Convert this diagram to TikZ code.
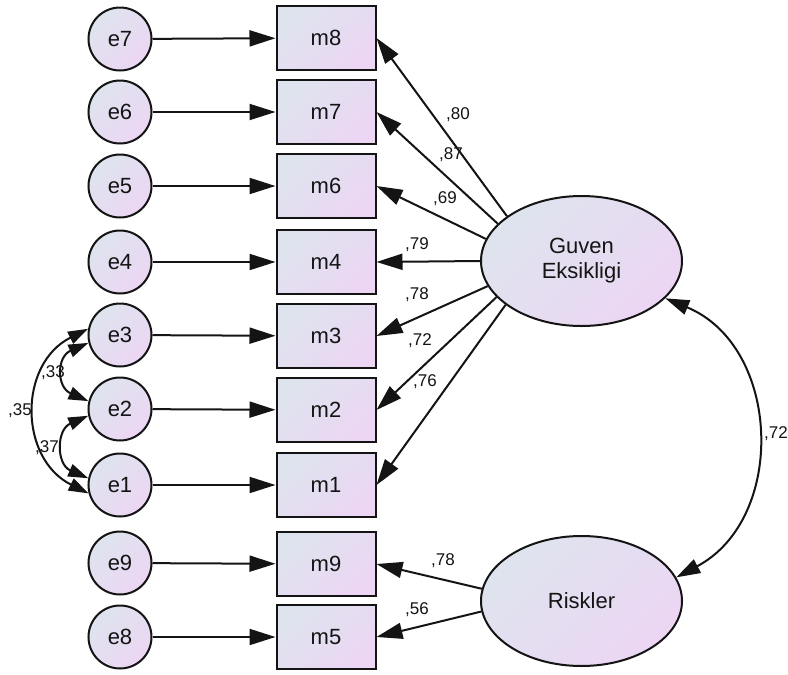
\documentclass[tikz,border=0pt]{standalone}
\usepackage{fontspec}
\setmainfont{Liberation Sans}
\usetikzlibrary{arrows.meta,shapes.geometric}
\definecolor{ca}{RGB}{222,228,238}
\definecolor{cb}{RGB}{236,214,243}
\definecolor{ink}{RGB}{20,20,20}
\tikzset{
  fillgrad/.style={top color=ca,bottom color=cb,shading angle=45},
  nodefont/.style={font=\fontsize{22}{25}\selectfont,text=ink},
  errnode/.style={circle,draw=ink,line width=2pt,minimum size=63pt,inner sep=0pt,fillgrad,nodefont},
  obsnode/.style={rectangle,draw=ink,line width=2pt,minimum width=99pt,minimum height=64pt,inner sep=0pt,fillgrad,nodefont},
  latnode/.style={ellipse,draw=ink,line width=2pt,minimum width=201pt,minimum height=130pt,inner sep=0pt,align=center,fillgrad,nodefont},
  arr/.style={-{Triangle[length=26pt,width=16pt]},line width=2pt,draw=ink},
  dblarr/.style={{Triangle[length=24pt,width=15pt]}-{Triangle[length=24pt,width=15pt]},line width=2pt,draw=ink},
  smalldbl/.style={{Triangle[length=20pt,width=13pt]}-{Triangle[length=20pt,width=13pt]},line width=2pt,draw=ink},
  lbl/.style={font=\fontsize{17}{20}\selectfont,text=ink,inner sep=0pt}
}
\begin{document}
\begin{tikzpicture}[x=1pt,y=-1pt]
\path[use as bounding box,fill=white] (0,0) rectangle (788,675);
% error terms
\node[errnode] (e7) at (120,39) {e7};
\node[errnode] (e6) at (120,112) {e6};
\node[errnode] (e5) at (120,186) {e5};
\node[errnode] (e4) at (120,262) {e4};
\node[errnode] (e3) at (120,335) {e3};
\node[errnode] (e2) at (120,409) {e2};
\node[errnode] (e1) at (120,485) {e1};
\node[errnode] (e9) at (120,563) {e9};
\node[errnode] (e8) at (120,637) {e8};
% observed
\node[obsnode] (m8) at (326,38) {m8};
\node[obsnode] (m7) at (326,112) {m7};
\node[obsnode] (m6) at (326,186) {m6};
\node[obsnode] (m4) at (326,262) {m4};
\node[obsnode] (m3) at (326,336) {m3};
\node[obsnode] (m2) at (326,410) {m2};
\node[obsnode] (m1) at (326,485) {m1};
\node[obsnode] (m9) at (326,564) {m9};
\node[obsnode] (m5) at (326,637) {m5};
% latent
\node[latnode] (G) at (581.5,261) {Guven\\Eksikligi};
\node[latnode] (R) at (581.5,601) {Riskler};
% error arrows
\foreach \e/\m in {e7/m8,e6/m7,e5/m6,e4/m4,e3/m3,e2/m2,e1/m1,e9/m9,e8/m5}
  \draw[arr] (\e) -- (\m);
% loadings
\draw[arr] (G.149.6) -- (m8.east);
\draw[arr] (G.156.3) -- (m7.east);
\draw[arr] (G.167.7) -- (m6.east);
\draw[arr] (G.180) -- (m4.east);
\draw[arr] (G.195) -- (m3.east);
\draw[arr] (G.203) -- (m2.east);
\draw[arr] (G.210.4) -- (m1.east);
\draw[arr] (R.173) -- (m9.east);
\draw[arr] (R.186.3) -- (m5.east);
% correlations
\draw[dblarr] (G.-24) .. controls +(116,48) and +(111,-59) .. (R.14);
\draw[smalldbl] (e3.169) .. controls +(-70,35) and +(-70,-35) .. (e1.195);
\draw[smalldbl] (e3.194) .. controls +(-32,14) and +(-32,-14) .. (e2.166);
\draw[smalldbl] (e2.192) .. controls +(-32,14) and +(-32,-14) .. (e1.168);
% labels
\node[lbl] (l80) at (458,115) {,80};
\node[lbl] (l87) at (451,155) {,87};
\node[lbl] (l69) at (445,199) {,69};
\node[lbl] (l79) at (417,245) {,79};
\node[lbl] (l78) at (417,295) {,78};
\node[lbl] (l72) at (420,341) {,72};
\node[lbl] (l76) at (425,382) {,76};
\node[lbl] (l78b) at (443,561) {,78};
\node[lbl] (l56) at (417,610) {,56};
\node[lbl,anchor=west] (l72b) at (764,434) {,72};
\node[lbl] (l35) at (20,411) {,35};
\node[lbl] (l33) at (53,373) {,33};
\node[lbl] (l37) at (47,448) {,37};
\end{tikzpicture}
\end{document}
